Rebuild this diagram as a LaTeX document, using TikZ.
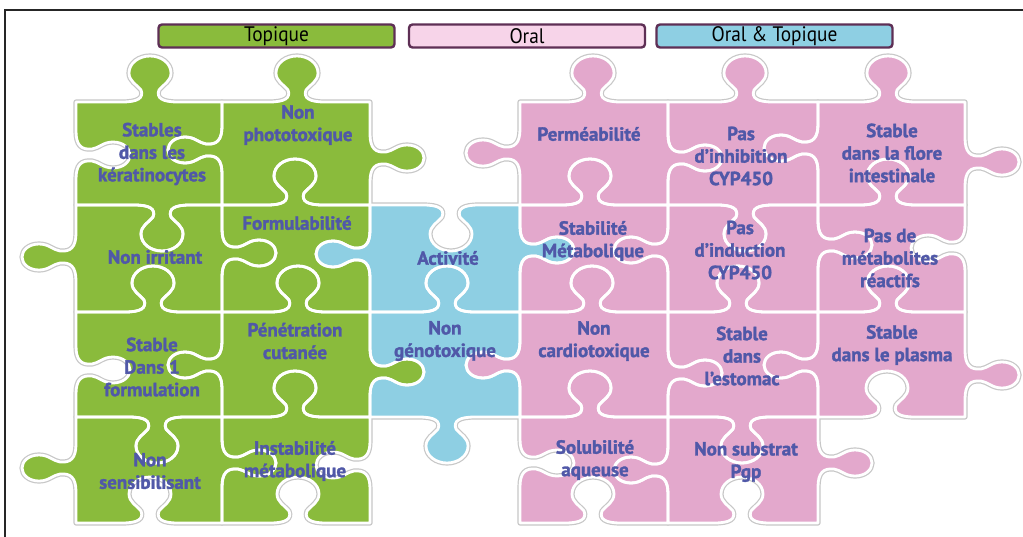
\documentclass[tikz,border=0pt]{standalone}
\usepackage{fontspec}
\setmainfont{PT Sans}
\newfontfamily\legfont[FakeStretch=0.92]{PT Sans}
\IfFontExistsTF{PT Sans Bold}{\newfontfamily\lblfont[FakeBold=1.6]{PT Sans Bold}}{\newfontfamily\lblfont[FakeBold=3.5]{PT Sans}}
\definecolor{pzgreen}{HTML}{8ABB3C}
\definecolor{pzpink}{HTML}{E3A8CC}
\definecolor{pzcyan}{HTML}{8ECFE3}
\definecolor{pzlight}{HTML}{F7D4E9}
\definecolor{pztext}{HTML}{5058A8}
\definecolor{legborder}{HTML}{5E2F55}
% horizontal edge: y, xend, dir, sign, centre
\newcommand\Hx[5]{%
 -- ({#5-28*(#3)},#1)
 .. controls ({#5-12*(#3)},#1) and ({#5-6*(#3)},{#1-4*(#4)*(#3)}) .. ({#5-9*(#3)},{#1-12*(#4)*(#3)})
 .. controls ({#5-14*(#3)},{#1-18*(#4)*(#3)}) and ({#5-21*(#3)},{#1-21*(#4)*(#3)}) .. ({#5-21*(#3)},{#1-29*(#4)*(#3)})
 .. controls ({#5-21*(#3)},{#1-39*(#4)*(#3)}) and ({#5-11*(#3)},{#1-46*(#4)*(#3)}) .. (#5,{#1-46*(#4)*(#3)})
 .. controls ({#5+11*(#3)},{#1-46*(#4)*(#3)}) and ({#5+21*(#3)},{#1-39*(#4)*(#3)}) .. ({#5+21*(#3)},{#1-29*(#4)*(#3)})
 .. controls ({#5+21*(#3)},{#1-21*(#4)*(#3)}) and ({#5+14*(#3)},{#1-18*(#4)*(#3)}) .. ({#5+9*(#3)},{#1-12*(#4)*(#3)})
 .. controls ({#5+6*(#3)},{#1-4*(#4)*(#3)}) and ({#5+12*(#3)},#1) .. ({#5+28*(#3)},#1)
 -- (#2,#1)}
% vertical edge: x, yend, dir, sign, centre
\newcommand\Vx[5]{%
 -- (#1,{#5-24*(#3)})
 .. controls (#1,{#5-10*(#3)}) and ({#1+5*(#4)*(#3)},{#5-5*(#3)}) .. ({#1+16*(#4)*(#3)},{#5-6*(#3)})
 .. controls ({#1+23*(#4)*(#3)},{#5-7*(#3)}) and ({#1+27*(#4)*(#3)},{#5-13*(#3)}) .. ({#1+37*(#4)*(#3)},{#5-13*(#3)})
 .. controls ({#1+47*(#4)*(#3)},{#5-13*(#3)}) and ({#1+54*(#4)*(#3)},{#5-7*(#3)}) .. ({#1+54*(#4)*(#3)},#5)
 .. controls ({#1+54*(#4)*(#3)},{#5+7*(#3)}) and ({#1+47*(#4)*(#3)},{#5+13*(#3)}) .. ({#1+37*(#4)*(#3)},{#5+13*(#3)})
 .. controls ({#1+27*(#4)*(#3)},{#5+13*(#3)}) and ({#1+23*(#4)*(#3)},{#5+7*(#3)}) .. ({#1+16*(#4)*(#3)},{#5+6*(#3)})
 .. controls ({#1+5*(#4)*(#3)},{#5+5*(#3)}) and (#1,{#5+10*(#3)}) .. (#1,{#5+24*(#3)})
 -- (#1,#2)}
\newcommand\piecepath[8]{(#1,#2) \Hx{#2}{#3}{1}#5 \Vx{#3}{#4}{1}#6 \Hx{#4}{#1}{-1}#7 \Vx{#1}{#2}{-1}#8 -- cycle}
\newcommand\allpieces{%
\Pc{76}{102}{222}{205}{{1}{150}}{{-1}{150}}{{1}{162}}{{-1}{155}}{pzgreen}%
\Pc{222}{102}{370}{205}{{1}{297}}{{1}{158}}{{-1}{295}}{{1}{150}}{pzgreen}%
\Pc{76}{205}{222}{312}{{-1}{162}}{{1}{253}}{{-1}{153}}{{1}{257}}{pzgreen}%
\Pc{222}{205}{370}{312}{{1}{295}}{{-1}{254}}{{-1}{298}}{{-1}{253}}{pzgreen}%
\Pc{76}{312}{222}{417}{{1}{153}}{{-1}{365}}{{1}{157}}{{-1}{370}}{pzgreen}%
\Pc{222}{312}{370}{417}{{1}{298}}{{1}{372}}{{-1}{295}}{{1}{365}}{pzgreen}%
\Pc{76}{417}{222}{523}{{-1}{157}}{{1}{463}}{{-1}{150}}{{1}{468}}{pzgreen}%
\Pc{222}{417}{370}{523}{{1}{295}}{{-1}{465}}{{-1}{298}}{{-1}{463}}{pzgreen}%
\Pc{370}{205}{520}{312}{{-1}{451}}{{1}{250}}{{-1}{447}}{{1}{254}}{pzcyan}%
\Pc{370}{312}{520}{417}{{1}{447}}{{-1}{365}}{{1}{447}}{{-1}{372}}{pzcyan}%
\Pc{520}{102}{668}{205}{{1}{593}}{{1}{158}}{{-1}{590}}{{1}{153}}{pzpink}%
\Pc{668}{102}{818}{205}{{1}{745}}{{-1}{148}}{{1}{745}}{{-1}{158}}{pzpink}%
\Pc{818}{102}{965}{205}{{1}{888}}{{1}{162}}{{-1}{888}}{{1}{148}}{pzpink}%
\Pc{520}{205}{668}{312}{{1}{590}}{{-1}{250}}{{-1}{592}}{{-1}{250}}{pzpink}%
\Pc{668}{205}{818}{312}{{-1}{745}}{{1}{245}}{{-1}{738}}{{1}{250}}{pzpink}%
\Pc{818}{205}{965}{312}{{1}{888}}{{-1}{248}}{{-1}{888}}{{-1}{245}}{pzpink}%
\Pc{520}{312}{668}{417}{{1}{592}}{{1}{373}}{{-1}{590}}{{1}{365}}{pzpink}%
\Pc{668}{312}{818}{417}{{1}{738}}{{-1}{365}}{{1}{742}}{{-1}{373}}{pzpink}%
\Pc{818}{312}{965}{417}{{1}{888}}{{1}{375}}{{-1}{887}}{{1}{365}}{pzpink}%
\Pc{520}{417}{668}{523}{{1}{590}}{{-1}{470}}{{-1}{593}}{{-1}{463}}{pzpink}%
\Pc{668}{417}{818}{523}{{-1}{742}}{{1}{463}}{{-1}{742}}{{1}{470}}{pzpink}%
}
\begin{document}
\begin{tikzpicture}[x=1pt,y=-1pt,
  halo/.style={draw=black!22,line width=5.2pt,line join=round},
  outline/.style={draw=white,line width=2.8pt,line join=round},
  lbl/.style={text=pztext,font=\lblfont\fontsize{19}{22.5}\selectfont,align=center,inner sep=0pt},
  leg/.style={draw=legborder,line width=2.4pt,rounded corners=3.5pt,minimum width=236pt,minimum height=23pt,inner sep=0pt,font=\legfont\fontsize{21}{21}\selectfont,text=black}]
\useasboundingbox (0,0) rectangle (1023,536);
\fill[white] (0,0) rectangle (1023,536);
\draw[line width=1.3pt,black!85] (5,545) -- (5,10) -- (1030,10);
% legend
\node[leg,fill=pzgreen] (legT) at (276.5,36) {Topique};
\node[leg,fill=pzlight] (legO) at (527,36) {Oral};
\node[leg,fill=pzcyan] (legOT) at (774.5,36) {Oral \& Topique};
% pieces: halo, fill, outline
\def\Pc#1#2#3#4#5#6#7#8#9{\draw[halo] \piecepath{#1}{#2}{#3}{#4}{#5}{#6}{#7}{#8};}
\allpieces
\def\Pc#1#2#3#4#5#6#7#8#9{\fill[#9] \piecepath{#1}{#2}{#3}{#4}{#5}{#6}{#7}{#8};}
\allpieces
\def\Pc#1#2#3#4#5#6#7#8#9{\draw[outline] \piecepath{#1}{#2}{#3}{#4}{#5}{#6}{#7}{#8};}
\allpieces
% labels
\node[lbl] (t11) at (152,154) {Stables\\dans les\\kératinocytes};
\node[lbl] (t12) at (298,125) {Non\\phototoxique};
\node[lbl] (t21) at (155,257) {Non irritant};
\node[lbl] (t22) at (297,223) {Formulabilité};
\node[lbl] (t31) at (152,367) {Stable\\Dans 1\\formulation};
\node[lbl] (t32) at (295,341) {Pénétration\\cutanée};
\node[lbl] (t41) at (150,471) {Non\\sensibilisant};
\node[lbl] (t42) at (295,461) {Instabilité\\métabolique};
\node[lbl] (c2) at (448,258) {Activité};
\node[lbl] (c3) at (445,341) {Non\\génotoxique};
\node[lbl] (p14) at (589,134) {Perméabilité};
\node[lbl] (p15) at (741,156) {Pas\\d’inhibition\\CYP450};
\node[lbl] (p16) at (892,153) {Stable\\dans la flore\\intestinale};
\node[lbl] (p24) at (593,241) {Stabilité\\Métabolique};
\node[lbl] (p25) at (740,250) {Pas\\d’induction\\CYP450};
\node[lbl] (p26) at (890,258) {Pas de\\métabolites\\réactifs};
\node[lbl] (p34) at (594,341) {Non\\cardiotoxique};
\node[lbl] (p35) at (742,356) {Stable\\dans\\l’estomac};
\node[lbl] (p36) at (892,345) {Stable\\dans le plasma};
\node[lbl] (p44) at (595,460) {Solubilité\\aqueuse};
\node[lbl] (p45) at (746,462) {Non substrat\\Pgp};
\end{tikzpicture}
\end{document}
